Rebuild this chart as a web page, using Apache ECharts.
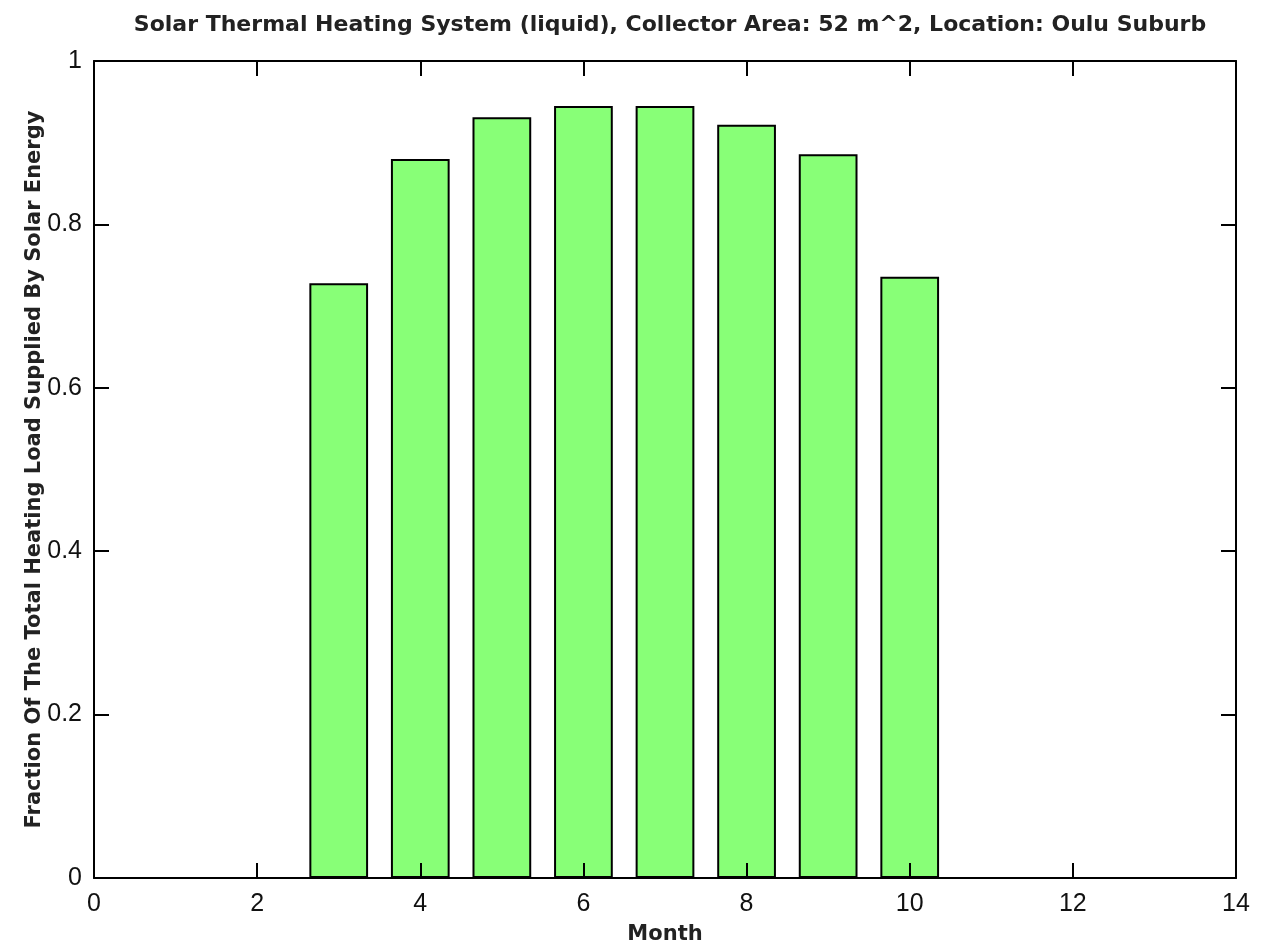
<!DOCTYPE html>
<html>
<head>
<meta charset="utf-8">
<script src="https://cdn.jsdelivr.net/npm/echarts@6/dist/echarts.min.js"></script>
<style>
  html, body { margin: 0; padding: 0; background: #fff; }
  #chart { width: 1271px; height: 944px; }
</style>
</head>
<body>
<div id="chart"></div>
<script>
// months with data and fraction
const months = [3, 4, 5, 6, 7, 8, 9, 10]
const fraction = [0.728, 0.880, 0.931, 0.945, 0.945, 0.922, 0.886, 0.736]
const xTicks = [0, 2, 4, 6, 8, 10, 12, 14]
const yTicks = [0, 0.2, 0.4, 0.6, 0.8, 1]

let chart = echarts.init(document.getElementById('chart'))
const font = 'Liberation Sans, Arial, sans-serif'
const nameFont = 'DejaVu Sans, sans-serif'
const axisLine = { show: true, onZero: false, lineStyle: { color: '#000', width: 2 } }
const tick = { show: true, inside: true, length: 15, lineStyle: { color: '#000', width: 2 } }

const option = {
  animation: false,
  title: {
    text: 'Solar Thermal Heating System (liquid), Collector Area: 52 m^2, Location: Oulu Suburb',
    left: 665,
    textAlign: 'center',
    top: 9,
    textStyle: { fontFamily: nameFont, fontSize: 22, fontWeight: 'bold', color: '#222' }
  },
  grid: { left: 94, right: 35, top: 61, bottom: 66, outerBoundsMode: 'none' },
  xAxis: [
    {
      type: 'value',
      min: xTicks[0],
      max: xTicks[xTicks.length - 1],
      interval: 2,
      z: 5,
      name: 'Month',
      nameLocation: 'middle',
      nameGap: 46,
      nameMoveOverlap: false,
      nameTextStyle: { fontFamily: nameFont, fontSize: 21, fontWeight: 'bold', color: '#222' },
      axisLine: axisLine,
      axisTick: tick,
      splitLine: { show: false },
      axisLabel: { fontFamily: font, fontSize: 25, color: '#111', margin: 14 }
    },
    {
      type: 'value',
      position: 'top',
      min: xTicks[0],
      max: xTicks[xTicks.length - 1],
      interval: 2,
      z: 5,
      axisLine: axisLine,
      axisTick: tick,
      splitLine: { show: false },
      axisLabel: { show: false }
    }
  ],
  yAxis: [
    {
      type: 'value',
      min: yTicks[0],
      max: yTicks[yTicks.length - 1],
      interval: 0.2,
      z: 5,
      name: 'Fraction Of The Total Heating Load Supplied By Solar Energy',
      nameLocation: 'middle',
      nameGap: 49,
      nameMoveOverlap: false,
      nameTextStyle: { fontFamily: nameFont, fontSize: 21, fontWeight: 'bold', color: '#222' },
      axisLine: axisLine,
      axisTick: tick,
      splitLine: { show: false },
      axisLabel: {
        fontFamily: font, fontSize: 25, color: '#111', margin: 12,
        formatter: function (v) { return String(v) }
      }
    },
    {
      type: 'value',
      position: 'right',
      min: yTicks[0],
      max: yTicks[yTicks.length - 1],
      interval: 0.2,
      z: 5,
      axisLine: axisLine,
      axisTick: tick,
      splitLine: { show: false },
      axisLabel: { show: false }
    }
  ],
  series: [
    {
      type: 'bar',
      xAxisIndex: 0,
      yAxisIndex: 0,
      barWidth: '72%',
      data: months.map(function (m, i) { return [m, fraction[i]] }),
      itemStyle: { color: '#88ff77', borderColor: '#000', borderWidth: 2 }
    }
  ]
}
chart.setOption(option, true)
</script>
</body>
</html>
